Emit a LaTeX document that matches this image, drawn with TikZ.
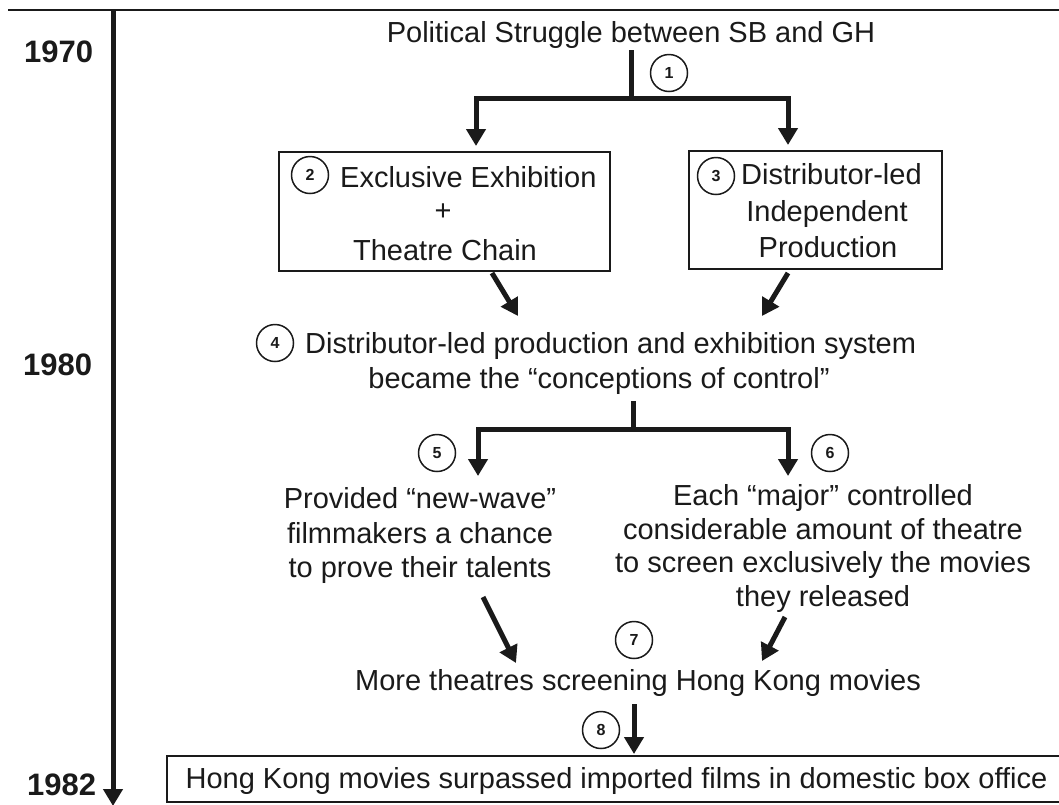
\documentclass[tikz,border=0pt]{standalone}
\usepackage{fontspec}
\setmainfont{Liberation Sans}
\usetikzlibrary{arrows.meta}
\definecolor{ink}{HTML}{1A1A1A}
\begin{document}
\begin{tikzpicture}[x=1pt,y=-1pt,
  txt/.style={font=\fontsize{29}{35}\selectfont, inner sep=0pt, anchor=base, text=ink},
  txtl/.style={txt, anchor=base west},
  yr/.style={font=\fontsize{31}{35}\selectfont\bfseries, inner sep=0pt, anchor=base west, text=ink},
  num/.style={draw=ink, circle, line width=1.5pt, minimum size=37pt, inner sep=0pt, font=\fontsize{16}{16}\selectfont\bfseries, text=ink},
  frame/.style={draw=ink, line width=1.6pt, inner sep=0pt},
  tip/.style={-{Triangle[width=19pt,length=17pt]}},
  flow/.style={draw=ink, line width=5pt, tip},
  bar/.style={draw=ink, line width=5pt},
  twotips/.style={{Triangle[width=19pt,length=17pt]}-{Triangle[width=19pt,length=17pt]}},
]
\useasboundingbox (0,0) rectangle (1059,804);
\fill[white] (0,0) rectangle (1059,804);
\begin{scope}
\clip (0,0) rectangle (1059,804);

% top rule and timeline
\coordinate (ruleL) at (8,10);
\coordinate (ruleR) at (1059,10);
\draw[ink, line width=1.6pt] (ruleL) -- (ruleR);
\coordinate (tlTop) at (113,10);
\coordinate (tlEnd) at (113,806);
\draw[flow] (tlTop) -- (tlEnd);

% years
\node[yr] (y1970) at (24,62) {1970};
\node[yr] (y1980) at (23,375) {1980};
\node[yr] (y1982) at (27,795) {1982};

% level 1
\node[txt] (title) at (631,42) {Political Struggle between SB and GH};
\node[num] (n1) at (669,73) {1};
\coordinate (s1a) at (631,50);
\coordinate (s1b) at (631,98);
\coordinate (b1l) at (476,98);
\coordinate (b1r) at (788,98);
\coordinate (t1l) at (476,146);
\coordinate (t1r) at (788,145);
\draw[bar] (s1a) -- (s1b);
\draw[flow, line join=miter, twotips] (t1l) -- (b1l) -- (b1r) -- (t1r);

% box 2
\node[frame, minimum width=331pt, minimum height=119pt] (box2) at (444.5,211.5) {};
\node[num] (n2) at (310,175) {2};
\node[txtl] (b2a) at (340,187) {Exclusive Exhibition};
\node[txt] (b2b) at (443,220) {+};
\node[txt] (b2c) at (445,260) {Theatre Chain};

% box 3
\node[frame, minimum width=253pt, minimum height=118pt] (box3) at (815.5,210) {};
\node[num] (n3) at (716,176) {3};
\node[txtl] (b3a) at (741,184) {Distributor-led};
\node[txt] (b3b) at (827,221) {Independent};
\node[txt] (b3c) at (828,257) {Production};

% arrows to 4
\coordinate (d2a) at (492,273);
\coordinate (d2b) at (518,316);
\coordinate (d3a) at (788,273);
\coordinate (d3b) at (762,316);
\draw[flow] (d2a) -- (d2b);
\draw[flow] (d3a) -- (d3b);

% level 4
\node[num] (n4) at (275,343) {4};
\node[txtl] (l4a) at (305,353) {Distributor-led production and exhibition system};
\node[txt] (l4b) at (599,388) {became the “conceptions of control”};
\coordinate (s4a) at (633,401);
\coordinate (s4b) at (633,429);
\coordinate (b4l) at (478,429);
\coordinate (b4r) at (788,429);
\coordinate (t4l) at (478,476);
\coordinate (t4r) at (788,476);
\draw[bar] (s4a) -- (s4b);
\draw[flow, line join=miter, twotips] (t4l) -- (b4l) -- (b4r) -- (t4r);
\node[num] (n5) at (437,453) {5};
\node[num] (n6) at (830,453) {6};

% level 5 / 6
\node[txt] (l5a) at (420,508) {Provided “new-wave”};
\node[txt] (l5b) at (420,543) {filmmakers a chance};
\node[txt] (l5c) at (420,577) {to prove their talents};
\node[txt] (l6a) at (823,505) {Each “major” controlled};
\node[txt] (l6b) at (823,539) {considerable amount of theatre};
\node[txt] (l6c) at (823,572) {to screen exclusively the movies};
\node[txt] (l6d) at (823,606) {they released};

% arrows to 7
\coordinate (d5a) at (483,597);
\coordinate (d5b) at (516,663);
\coordinate (d6a) at (785,617);
\coordinate (d6b) at (762,661);
\draw[flow] (d5a) -- (d5b);
\draw[flow] (d6a) -- (d6b);

% level 7
\node[num] (n7) at (634,640) {7};
\node[txt] (l7) at (638,690) {More theatres screening Hong Kong movies};
\coordinate (s7a) at (634,704);
\coordinate (s7b) at (634,754);
\draw[flow] (s7a) -- (s7b);
\node[num] (n8) at (601,730) {8};

% bottom box
\node[frame, minimum width=900pt, minimum height=46pt] (box8) at (617,779) {};
\node[txt] (l8) at (616.5,788) {Hong Kong movies surpassed imported films in domestic box office};
\end{scope}
\end{tikzpicture}
\end{document}
